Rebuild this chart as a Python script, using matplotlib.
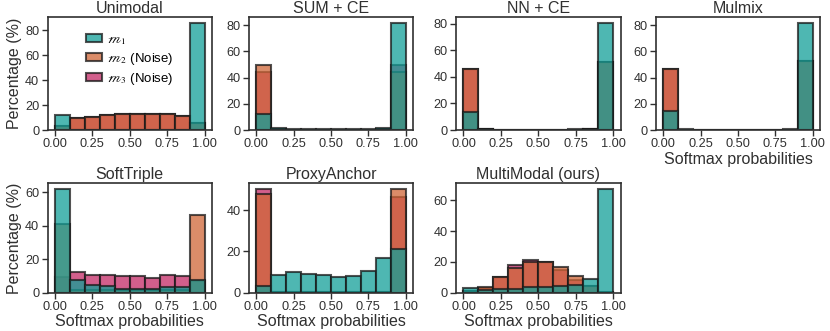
import numpy as np
import matplotlib
matplotlib.use("Agg")
import matplotlib.pyplot as plt
from matplotlib.patches import Patch

plt.rcParams['font.family'] = ['Liberation Sans', 'DejaVu Sans']
plt.rcParams['mathtext.fontset'] = 'stix'

# percentage of samples per softmax-probability bin (10 bins, 0..1)
titles = ["Unimodal", "SUM + CE", "NN + CE", "Mulmix",
          "SoftTriple", "ProxyAnchor", "MultiModal (ours)"]

unimodal_m1 = [12.0, 0, 0, 0, 0, 0, 0, 0, 0, 86.0]
unimodal_m2 = [3.5, 9.3, 10.7, 12.0, 12.5, 12.8, 12.8, 12.8, 11.5, 6.0]
unimodal_m3 = [3.0, 9.3, 10.7, 12.0, 12.5, 12.8, 12.8, 12.8, 11.5, 5.5]

sum_ce_m1 = [12.4, 1.4, 0.6, 0.5, 0.5, 0.5, 0.5, 0.6, 1.2, 82.0]
sum_ce_m2 = [50.0, 0.5, 0.3, 0.2, 0.2, 0.2, 0.2, 0.3, 0.5, 44.0]
sum_ce_m3 = [44.0, 0.5, 0.3, 0.2, 0.2, 0.2, 0.2, 0.3, 0.5, 50.0]

nn_ce_m1 = [13.4, 0.6, 0.3, 0.2, 0.2, 0.2, 0.3, 0.5, 1.0, 81.0]
nn_ce_m2 = [46.0, 0.4, 0.2, 0.2, 0.2, 0.2, 0.2, 0.2, 0.4, 51.0]
nn_ce_m3 = [46.0, 0.4, 0.2, 0.2, 0.2, 0.2, 0.2, 0.2, 0.4, 51.0]

mulmix_m1 = [14.7, 0.5, 0.3, 0.2, 0.2, 0.2, 0.2, 0.3, 0.8, 82.0]
mulmix_m2 = [46.3, 0.3, 0.2, 0.2, 0.2, 0.2, 0.2, 0.2, 0.3, 52.7]
mulmix_m3 = [46.3, 0.3, 0.2, 0.2, 0.2, 0.2, 0.2, 0.2, 0.3, 52.7]

softtriple_m1 = [62.1, 7.7, 4.8, 3.9, 2.5, 2.5, 2.5, 3.5, 3.1, 7.3]
softtriple_m2 = [40.7, 1.5, 1.5, 1.5, 1.5, 1.5, 1.5, 1.5, 1.5, 46.4]
softtriple_m3 = [9.3, 12.2, 10.6, 10.6, 9.7, 9.7, 8.9, 10.3, 9.9, 7.0]

proxy_m1 = [3.2, 8.4, 10.0, 9.0, 8.4, 7.4, 7.9, 10.3, 16.9, 21.0]
proxy_m2 = [47.8, 0.2, 0.2, 0.2, 0.2, 0.2, 0.2, 0.2, 0.2, 50.5]
proxy_m3 = [50.5, 0.2, 0.2, 0.2, 0.2, 0.2, 0.2, 0.2, 0.2, 46.6]

multimodal_m1 = [3.2, 2.0, 2.5, 2.5, 3.6, 3.6, 4.2, 5.3, 8.8, 67.8]
multimodal_m2 = [1.0, 3.5, 10.5, 16.2, 20.0, 20.0, 16.8, 11.0, 4.6, 0.5]
multimodal_m3 = [1.0, 3.0, 10.0, 18.3, 21.5, 20.3, 14.7, 8.4, 4.6, 0.5]

panels = [
    (unimodal_m1, unimodal_m2, unimodal_m3),
    (sum_ce_m1, sum_ce_m2, sum_ce_m3),
    (nn_ce_m1, nn_ce_m2, nn_ce_m3),
    (mulmix_m1, mulmix_m2, mulmix_m3),
    (softtriple_m1, softtriple_m2, softtriple_m3),
    (proxy_m1, proxy_m2, proxy_m3),
    (multimodal_m1, multimodal_m2, multimodal_m3),
]

series_labels = [r"$\mathscr{m}_1$", r"$\mathscr{m}_2$ (Noise)", r"$\mathscr{m}_3$ (Noise)"]
colors = ["#139f98", "#d06637", "#c32a66"]
ALPHA = 0.75
EDGE = "#1a1a1a"
INK = "#303030"

W, H = 830, 331
fig = plt.figure(figsize=(W / 100, H / 100), dpi=100)

# axes boxes in pixels: (left, top, width, height)
col_left = [47.5, 248.8, 456.0, 655.8]
row_box = [(17.3, 112.7), (183.3, 109.4)]


def px_rect(left, top, w, h):
    return [left / W, 1 - (top + h) / H, w / W, h / H]


edges = np.linspace(0, 1, 11)
for i, (title, data) in enumerate(zip(titles, panels)):
    r, c = divmod(i, 4)
    top, h = row_box[r]
    ax = fig.add_axes(px_rect(col_left[c], top, 164.5, h))
    # draw noise first, clean modality on top (like seaborn layered hue)
    for j in [2, 1, 0]:
        ax.bar(edges[:-1], data[j], width=0.1, align='edge',
               color=colors[j], alpha=ALPHA, edgecolor=EDGE, linewidth=1.5)
    ax.set_title(title, fontsize=11.5, color=INK, pad=3)
    ax.set_xticks([0, 0.25, 0.5, 0.75, 1.0])
    ax.set_xticklabels(["0.00", "0.25", "0.50", "0.75", "1.00"])
    ax.yaxis.set_major_locator(matplotlib.ticker.MultipleLocator(20))
    ax.tick_params(direction='out', length=4, width=1, labelsize=9.2,
                   colors=INK, pad=2)
    for sp in ax.spines.values():
        sp.set_color(INK)
        sp.set_linewidth(1.2)
    if c == 0:
        ax.set_ylabel("Percentage (%)", fontsize=11.5, color=INK, labelpad=2)
    if r == 1 or c == 3:
        ax.set_xlabel("Softmax probabilities", fontsize=11.5, color=INK, labelpad=1)
    if i == 0:
        handles = [Patch(facecolor=colors[k], alpha=ALPHA, edgecolor=EDGE,
                         linewidth=1.5) for k in range(3)]
        ax.legend(handles, series_labels, loc='upper left',
                  bbox_to_anchor=(0.2, 0.9), frameon=False, fontsize=9.5,
                  handlelength=1.2, handleheight=0.6, handletextpad=0.4,
                  labelspacing=0.3, borderaxespad=0)

fig.savefig("out.png", dpi=100)
